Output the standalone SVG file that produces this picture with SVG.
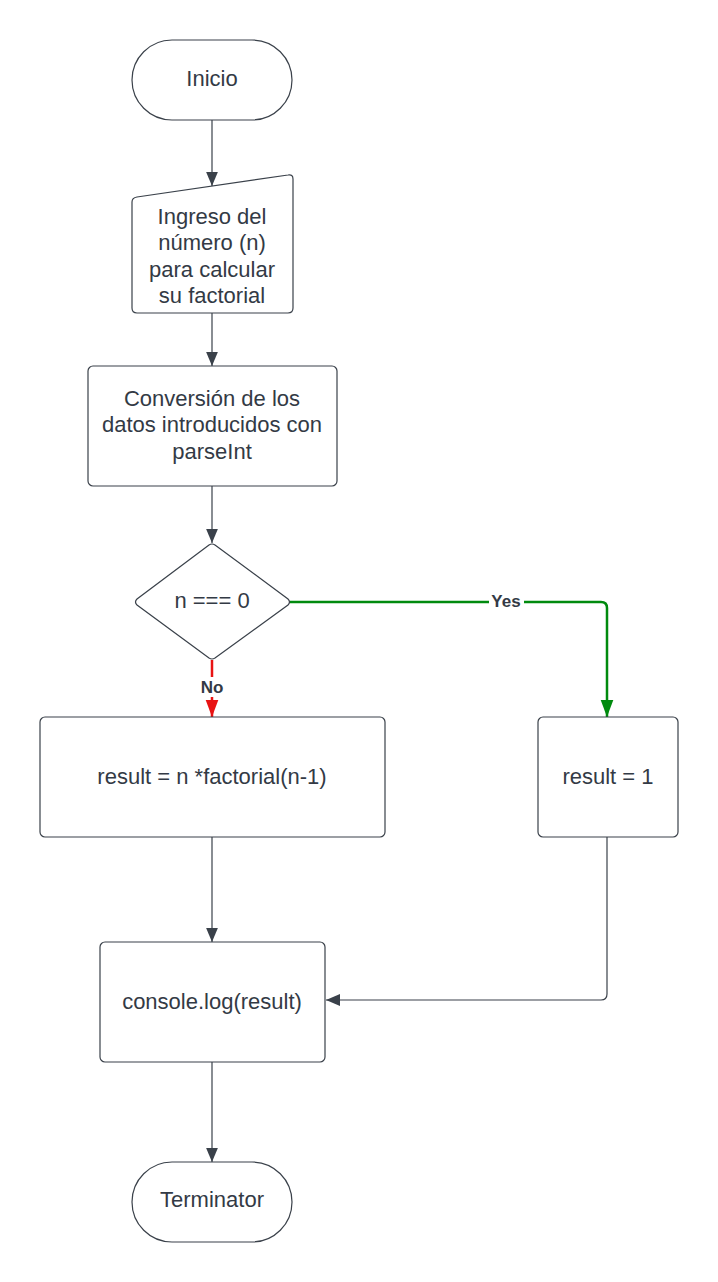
<svg xmlns="http://www.w3.org/2000/svg" width="718" height="1282" viewBox="0 0 718 1282">
  <defs>
    <style>
      .shape { fill: #ffffff; stroke: #3a414a; stroke-width: 1.2; }
      .label { font-family: "Liberation Sans", Arial, sans-serif; font-size: 22px; fill: #333a45; text-anchor: middle; dominant-baseline: central; }
      .edge { fill: none; stroke: #3a414a; stroke-width: 1.2; }
      .edge-yes { fill: none; stroke: #008a0e; stroke-width: 2.5; }
      .edge-no { fill: none; stroke: #e81313; stroke-width: 2.5; }
      .edge-label { font-family: "Liberation Sans", Arial, sans-serif; font-size: 17px; font-weight: bold; fill: #333a45; text-anchor: middle; dominant-baseline: central; }
    </style>
    <marker id="arrow" viewBox="0 0 10 10" refX="10" refY="5" markerWidth="14" markerHeight="14" markerUnits="userSpaceOnUse" orient="auto">
      <path d="M0,0.8 L10,5 L0,9.2 Z" fill="#3a414a"/>
    </marker>
    <marker id="arrow-green" viewBox="0 0 10 10" refX="10" refY="5" markerWidth="17" markerHeight="17" markerUnits="userSpaceOnUse" orient="auto">
      <path d="M0,1.3 L10,5 L0,8.7 Z" fill="#008a0e"/>
    </marker>
    <marker id="arrow-red" viewBox="0 0 10 10" refX="10" refY="5" markerWidth="17" markerHeight="17" markerUnits="userSpaceOnUse" orient="auto">
      <path d="M0,1.3 L10,5 L0,8.7 Z" fill="#e81313"/>
    </marker>
  </defs>

  <rect width="718" height="1282" fill="#ffffff"/>

  <!-- connectors -->
  <g id="connectors">
    <path class="edge" d="M212,120 V186" marker-end="url(#arrow)"/>
    <path class="edge" d="M212,313 V366" marker-end="url(#arrow)"/>
    <path class="edge" d="M212,486 V543" marker-end="url(#arrow)"/>
    <path class="edge-no" d="M212,660 V717" marker-end="url(#arrow-red)"/>
    <path class="edge-yes" d="M290,602 H601 Q607,602 607,608 V717" marker-end="url(#arrow-green)"/>
    <path class="edge" d="M212,837 V942" marker-end="url(#arrow)"/>
    <path class="edge" d="M607,837 V994 Q607,1000 601,1000 H326" marker-end="url(#arrow)"/>
    <path class="edge" d="M212,1062 V1162" marker-end="url(#arrow)"/>
    <rect x="197" y="677" width="30" height="20" fill="#ffffff"/>
    <text class="edge-label" x="212" y="687">No</text>
    <rect x="489" y="591" width="35" height="20" fill="#ffffff"/>
    <text class="edge-label" x="506" y="601">Yes</text>
  </g>

  <g id="inicio">
    <rect class="shape" x="132" y="40" width="160" height="80" rx="40" ry="40"/>
    <text class="label" x="212" y="78">Inicio</text>
  </g>

  <g id="ingreso">
    <path class="shape" d="M137,197 L288,175 Q293,174 293,179 V308 Q293,313 288,313 H137 Q132,313 132,308 V202 Q132,197.7 137,197 Z"/>
    <text class="label" x="212" y="216">Ingreso del</text>
    <text class="label" x="212" y="242">número (n)</text>
    <text class="label" x="212" y="269">para calcular</text>
    <text class="label" x="212" y="295">su factorial</text>
  </g>

  <g id="conversion">
    <rect class="shape" x="88" y="366" width="249" height="120" rx="5" ry="5"/>
    <text class="label" x="212" y="398">Conversión de los</text>
    <text class="label" x="212" y="424">datos introducidos con</text>
    <text class="label" x="212" y="451">parseInt</text>
  </g>

  <g id="decision">
    <path class="shape" d="M209,545 Q212,543 215,545 L288,599 Q291,602 288,605 L215,658 Q212,660 209,658 L137,605 Q134,602 137,599 Z"/>
    <text class="label" x="212" y="600">n === 0</text>
  </g>

  <g id="recursive">
    <rect class="shape" x="40" y="717" width="345" height="120" rx="5" ry="5"/>
    <text class="label" x="212" y="776">result = n *factorial(n-1)</text>
  </g>

  <g id="base-case">
    <rect class="shape" x="538" y="717" width="140" height="120" rx="5" ry="5"/>
    <text class="label" x="608" y="776">result = 1</text>
  </g>

  <g id="output">
    <rect class="shape" x="100" y="942" width="225" height="120" rx="5" ry="5"/>
    <text class="label" x="212" y="1001">console.log(result)</text>
  </g>

  <g id="terminator">
    <rect class="shape" x="132" y="1162" width="160" height="80" rx="40" ry="40"/>
    <text class="label" x="212" y="1199">Terminator</text>
  </g>
</svg>
